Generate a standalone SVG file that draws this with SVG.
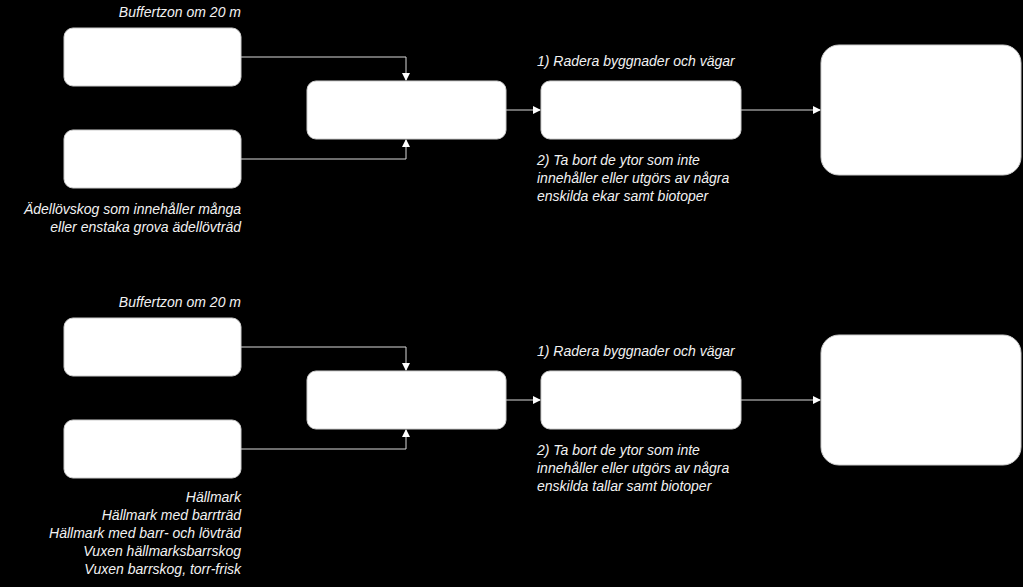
<svg xmlns="http://www.w3.org/2000/svg" width="1023" height="587" viewBox="0 0 1023 587">
<style>
.b{fill:#fff;stroke:#ccc;stroke-width:1}
.t{font-family:"Liberation Sans",Arial,sans-serif;font-size:14px;font-style:italic;fill:#f2f2f2}
.r{text-anchor:end}
.c{fill:none;stroke:#d9d9d9;stroke-width:1}
</style>
<defs><marker id="a" markerWidth="8" markerHeight="8" refX="7" refY="4" orient="auto" markerUnits="userSpaceOnUse"><path d="M0,0L8,4L0,8z" fill="#fff"/></marker></defs>
<rect width="1023" height="587" fill="#000"/>
<g id="connectors">
<path class="c" d="M241,57H406V80" marker-end="url(#a)"/>
<path class="c" d="M241,159H406V140" marker-end="url(#a)"/>
<path class="c" d="M506,110H540" marker-end="url(#a)"/>
<path class="c" d="M741,110H820" marker-end="url(#a)"/>
<path class="c" d="M241,347H406V370" marker-end="url(#a)"/>
<path class="c" d="M241,449H406V430" marker-end="url(#a)"/>
<path class="c" d="M506,400H540" marker-end="url(#a)"/>
<path class="c" d="M741,400H820" marker-end="url(#a)"/>
</g>
<g id="n1"><rect class="b" x="64" y="28" width="177" height="58" rx="9"/><text class="t r" x="241" y="17">Buffertzon om 20 m</text></g>
<g id="n2"><rect class="b" x="64" y="130" width="177" height="58" rx="9"/><text class="t r" x="241" y="214">Ädellövskog som innehåller många</text><text class="t r" x="241" y="232">eller enstaka grova ädellövträd</text></g>
<g id="n3"><rect class="b" x="307" y="81" width="199" height="58" rx="9"/></g>
<g id="n4"><rect class="b" x="541" y="81" width="200" height="58" rx="9"/><text class="t" x="537" y="66">1) Radera byggnader och vägar</text><text class="t" x="537" y="165">2) Ta bort de ytor som inte</text><text class="t" x="537" y="183">innehåller eller utgörs av några</text><text class="t" x="537" y="201">enskilda ekar samt biotoper</text></g>
<g id="n5"><rect class="b" x="821" y="45" width="200" height="130" rx="18"/></g>
<g id="n6"><rect class="b" x="64" y="318" width="177" height="58" rx="9"/><text class="t r" x="241" y="307">Buffertzon om 20 m</text></g>
<g id="n7"><rect class="b" x="64" y="420" width="177" height="58" rx="9"/><text class="t r" x="241" y="502">Hällmark</text><text class="t r" x="241" y="520">Hällmark med barrträd</text><text class="t r" x="241" y="538">Hällmark med barr- och lövträd</text><text class="t r" x="241" y="556">Vuxen hällmarksbarrskog</text><text class="t r" x="241" y="574">Vuxen barrskog, torr-frisk</text></g>
<g id="n8"><rect class="b" x="307" y="371" width="199" height="58" rx="9"/></g>
<g id="n9"><rect class="b" x="541" y="371" width="200" height="58" rx="9"/><text class="t" x="537" y="356">1) Radera byggnader och vägar</text><text class="t" x="537" y="455">2) Ta bort de ytor som inte</text><text class="t" x="537" y="473">innehåller eller utgörs av några</text><text class="t" x="537" y="491">enskilda tallar samt biotoper</text></g>
<g id="n10"><rect class="b" x="821" y="335" width="200" height="130" rx="18"/></g>
</svg>
